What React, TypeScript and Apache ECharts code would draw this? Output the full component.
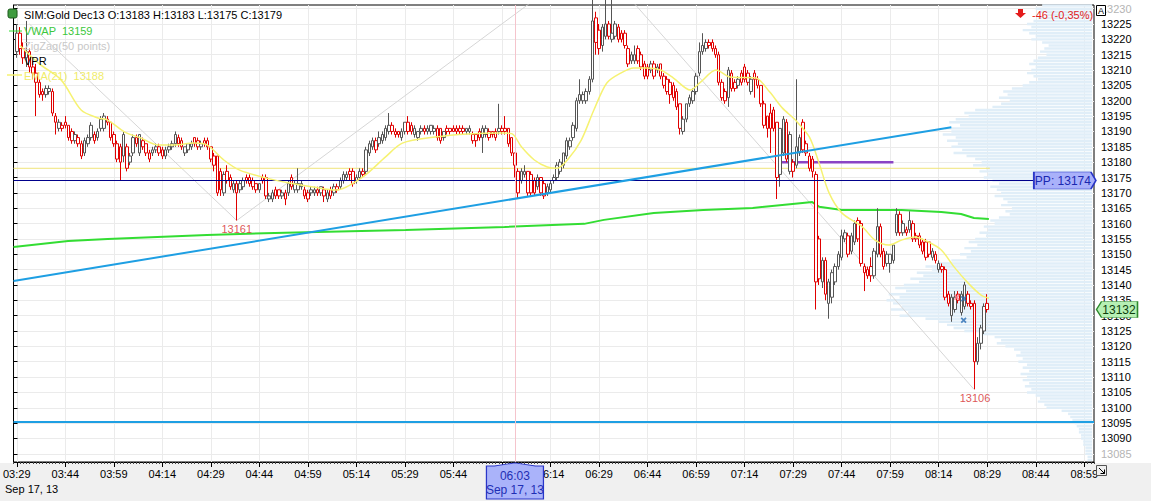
import React, { useEffect, useRef } from 'react';
import * as echarts from 'echarts';

type Bar = [number, number, number, number]; // open, close, low, high

// one-minute bars, 03:29 .. 03:59
const bars0329: Bar[] = [
  [13216, 13222, 13214, 13225], [13222, 13217, 13215, 13224], [13217, 13214, 13212, 13219], [13214, 13216, 13211, 13226],
  [13216, 13211, 13209, 13217], [13211, 13209, 13207, 13213], [13209, 13206, 13195, 13212], [13206, 13202, 13201, 13207],
  [13203, 13202, 13200, 13204], [13202, 13204, 13201, 13205], [13203, 13204, 13202, 13205], [13203, 13196, 13195, 13204],
  [13195, 13193, 13189, 13196], [13191, 13193, 13190, 13194], [13192, 13191, 13190, 13193], [13193, 13192, 13191, 13195],
  [13192, 13188, 13187, 13192], [13190, 13187, 13186, 13191], [13187, 13189, 13186, 13190], [13188, 13186, 13185, 13189],
  [13186, 13182, 13181, 13187], [13183, 13187, 13182, 13188], [13186, 13188, 13185, 13189], [13188, 13192, 13187, 13193],
  [13189, 13187, 13186, 13190], [13188, 13190, 13187, 13191], [13191, 13194, 13190, 13195], [13191, 13195, 13190, 13196],
  [13194, 13193, 13192, 13195], [13193, 13188, 13187, 13193], [13189, 13186, 13185, 13190],
];

// 04:00 .. 04:59
const bars04: Bar[] = [
  [13186, 13181, 13180, 13187], [13185, 13180, 13174, 13186], [13182, 13189, 13180, 13190], [13185, 13178, 13177, 13186],
  [13180, 13182, 13179, 13183], [13183, 13188, 13182, 13189], [13188, 13186, 13185, 13189], [13183, 13189, 13182, 13189],
  [13187, 13185, 13184, 13188], [13186, 13183, 13182, 13186], [13183, 13181, 13180, 13184], [13183, 13184, 13182, 13185],
  [13184, 13185, 13183, 13186], [13185, 13183, 13182, 13186], [13184, 13182, 13181, 13185], [13182, 13184, 13181, 13185],
  [13184, 13185, 13183, 13186], [13185, 13186, 13184, 13187], [13186, 13189, 13185, 13190], [13188, 13186, 13185, 13189],
  [13187, 13185, 13184, 13188], [13183, 13185, 13182, 13185], [13184, 13186, 13183, 13186], [13185, 13186, 13184, 13187],
  [13188, 13186, 13185, 13188], [13187, 13185, 13184, 13188], [13185, 13186, 13184, 13187], [13187, 13186, 13185, 13188],
  [13187, 13185, 13184, 13188], [13185, 13181, 13180, 13185], [13182, 13179, 13177, 13183], [13182, 13170, 13169, 13182],
  [13177, 13171, 13169, 13178], [13170, 13176, 13169, 13177], [13177, 13174, 13173, 13179], [13175, 13172, 13171, 13176],
  [13171, 13173, 13170, 13174], [13173, 13170, 13161, 13174], [13171, 13173, 13170, 13174], [13172, 13174, 13171, 13175],
  [13175, 13174, 13173, 13176], [13175, 13173, 13172, 13176], [13174, 13172, 13171, 13175], [13173, 13171, 13170, 13173],
  [13171, 13173, 13170, 13173], [13175, 13174, 13173, 13176], [13175, 13169, 13168, 13176], [13168, 13169, 13167, 13170],
  [13168, 13170, 13167, 13171], [13171, 13169, 13168, 13172], [13171, 13169, 13168, 13171], [13169, 13170, 13168, 13171],
  [13170, 13168, 13166, 13171], [13170, 13173, 13169, 13174], [13175, 13172, 13171, 13176], [13171, 13173, 13170, 13174],
  [13171, 13173, 13170, 13178], [13172, 13173, 13171, 13174], [13171, 13169, 13168, 13172], [13170, 13168, 13167, 13171],
];

// 05:00 .. 05:59
const bars05: Bar[] = [
  [13170, 13171, 13169, 13172], [13170, 13171, 13169, 13172], [13171, 13170, 13169, 13172], [13170, 13172, 13169, 13172],
  [13171, 13169, 13167, 13172], [13168, 13170, 13167, 13171], [13171, 13169, 13168, 13172], [13170, 13172, 13169, 13173],
  [13172, 13171, 13170, 13173], [13172, 13174, 13171, 13175], [13174, 13176, 13173, 13177], [13175, 13176, 13174, 13177],
  [13177, 13176, 13174, 13178], [13177, 13173, 13172, 13178], [13174, 13175, 13173, 13176], [13175, 13177, 13174, 13178],
  [13177, 13176, 13175, 13178], [13177, 13184, 13176, 13185], [13183, 13186, 13182, 13187], [13185, 13187, 13184, 13188],
  [13187, 13184, 13183, 13188], [13186, 13188, 13185, 13190], [13187, 13189, 13186, 13190], [13188, 13191, 13187, 13192],
  [13190, 13192, 13189, 13196], [13192, 13190, 13189, 13193], [13190, 13189, 13188, 13191], [13190, 13189, 13188, 13190],
  [13188, 13190, 13187, 13191], [13190, 13193, 13189, 13193], [13193, 13190, 13189, 13195], [13192, 13190, 13189, 13193],
  [13189, 13191, 13188, 13192], [13188, 13190, 13187, 13190], [13190, 13191, 13189, 13192], [13191, 13190, 13189, 13192],
  [13190, 13191, 13189, 13192], [13190, 13192, 13189, 13192], [13190, 13191, 13189, 13192], [13191, 13188, 13187, 13192],
  [13191, 13187, 13186, 13191], [13188, 13190, 13187, 13190], [13191, 13190, 13189, 13192], [13191, 13190, 13189, 13191],
  [13191, 13190, 13190, 13192], [13191, 13190, 13189, 13192], [13191, 13190, 13189, 13192], [13191, 13190, 13189, 13192],
  [13190, 13191, 13189, 13191], [13190, 13191, 13189, 13192], [13189, 13187, 13186, 13190], [13189, 13187, 13185, 13189],
  [13190, 13188, 13187, 13191], [13188, 13191, 13183, 13192], [13189, 13191, 13188, 13192], [13190, 13188, 13187, 13191],
  [13190, 13189, 13188, 13190], [13190, 13188, 13187, 13191], [13190, 13191, 13189, 13199], [13191, 13190, 13189, 13192],
];

// 06:00 .. 06:59
const bars06: Bar[] = [
  [13191, 13190, 13189, 13195], [13191, 13186, 13185, 13191], [13188, 13183, 13182, 13188], [13183, 13179, 13175, 13183],
  [13177, 13170, 13168, 13178], [13174, 13177, 13173, 13178], [13176, 13177, 13175, 13179], [13177, 13170, 13169, 13177],
  [13176, 13170, 13169, 13177], [13174, 13170, 13169, 13175], [13172, 13175, 13171, 13176], [13175, 13170, 13169, 13175],
  [13173, 13169, 13168, 13174], [13170, 13172, 13169, 13173], [13171, 13173, 13170, 13174], [13174, 13175, 13173, 13176],
  [13175, 13179, 13174, 13180], [13177, 13180, 13176, 13181], [13179, 13183, 13178, 13183], [13182, 13187, 13181, 13188],
  [13185, 13187, 13184, 13188], [13188, 13192, 13187, 13193], [13191, 13200, 13190, 13201], [13200, 13202, 13199, 13207],
  [13200, 13202, 13199, 13203], [13200, 13203, 13199, 13204], [13203, 13207, 13202, 13208], [13207, 13226, 13206, 13247],
  [13227, 13219, 13215, 13229], [13223, 13217, 13215, 13225], [13218, 13224, 13216, 13225], [13221, 13225, 13220, 13233],
  [13225, 13221, 13220, 13226], [13220, 13222, 13219, 13233], [13221, 13225, 13220, 13226], [13224, 13220, 13219, 13225],
  [13222, 13220, 13219, 13223], [13222, 13218, 13217, 13223], [13217, 13212, 13211, 13218], [13213, 13215, 13212, 13216],
  [13213, 13215, 13212, 13218], [13217, 13213, 13212, 13218], [13215, 13211, 13210, 13216], [13212, 13208, 13207, 13213],
  [13211, 13208, 13207, 13212], [13210, 13212, 13209, 13213], [13212, 13208, 13207, 13213], [13210, 13211, 13209, 13212],
  [13212, 13208, 13207, 13212], [13208, 13205, 13204, 13209], [13207, 13203, 13202, 13208], [13206, 13202, 13199, 13207],
  [13205, 13201, 13200, 13206], [13203, 13198, 13197, 13204], [13199, 13191, 13189, 13199], [13190, 13194, 13189, 13195],
  [13194, 13199, 13193, 13199], [13199, 13201, 13198, 13202], [13200, 13203, 13199, 13204], [13203, 13208, 13202, 13209],
];

// 07:00 .. 07:59
const bars07: Bar[] = [
  [13209, 13216, 13208, 13219], [13216, 13218, 13215, 13222], [13217, 13219, 13216, 13220], [13219, 13218, 13217, 13220],
  [13219, 13217, 13216, 13220], [13217, 13215, 13214, 13218], [13215, 13206, 13205, 13216], [13206, 13201, 13200, 13207],
  [13203, 13200, 13199, 13204], [13201, 13210, 13198, 13211], [13209, 13204, 13203, 13210], [13206, 13204, 13203, 13207],
  [13205, 13207, 13204, 13208], [13209, 13206, 13205, 13210], [13211, 13207, 13206, 13212], [13209, 13206, 13205, 13210],
  [13203, 13207, 13202, 13208], [13209, 13207, 13201, 13210], [13207, 13205, 13204, 13208], [13205, 13199, 13198, 13205],
  [13199, 13192, 13191, 13200], [13195, 13191, 13188, 13195], [13196, 13191, 13183, 13199], [13197, 13191, 13190, 13198],
  [13193, 13175, 13168, 13193], [13176, 13191, 13172, 13191], [13183, 13194, 13182, 13195], [13193, 13181, 13180, 13194],
  [13177, 13189, 13176, 13190], [13180, 13177, 13175, 13181], [13179, 13185, 13178, 13207], [13183, 13188, 13182, 13189],
  [13193, 13184, 13183, 13194], [13186, 13183, 13182, 13187], [13182, 13178, 13177, 13183], [13181, 13177, 13175, 13182],
  [13176, 13141, 13132, 13177], [13155, 13142, 13140, 13156], [13141, 13148, 13139, 13149], [13148, 13137, 13135, 13149],
  [13134, 13141, 13129, 13142], [13136, 13144, 13134, 13145], [13141, 13146, 13140, 13147], [13146, 13150, 13145, 13151],
  [13149, 13156, 13148, 13158], [13155, 13157, 13154, 13158], [13156, 13150, 13149, 13157], [13151, 13156, 13150, 13157],
  [13154, 13160, 13153, 13161], [13161, 13155, 13154, 13162], [13160, 13147, 13146, 13161], [13146, 13144, 13138, 13147],
  [13145, 13143, 13142, 13146], [13146, 13143, 13141, 13149], [13143, 13151, 13142, 13152], [13150, 13159, 13149, 13165],
  [13159, 13150, 13149, 13160], [13151, 13146, 13145, 13152], [13147, 13150, 13146, 13151], [13147, 13150, 13144, 13150],
];

// 08:00 .. 08:29
const bars08: Bar[] = [
  [13148, 13153, 13147, 13153], [13157, 13163, 13156, 13165], [13163, 13157, 13156, 13164], [13157, 13160, 13156, 13161],
  [13158, 13157, 13156, 13159], [13158, 13161, 13157, 13164], [13160, 13155, 13154, 13161], [13156, 13155, 13154, 13157],
  [13156, 13153, 13152, 13157], [13154, 13151, 13150, 13155], [13154, 13149, 13148, 13155], [13154, 13150, 13149, 13154],
  [13149, 13151, 13148, 13152], [13150, 13148, 13147, 13151], [13145, 13147, 13144, 13148], [13146, 13145, 13144, 13147],
  [13145, 13136, 13135, 13146], [13137, 13134, 13133, 13138], [13130, 13136, 13128, 13137], [13132, 13136, 13131, 13138],
  [13137, 13135, 13134, 13138], [13131, 13137, 13130, 13138], [13133, 13140, 13132, 13141], [13137, 13134, 13133, 13138],
  [13134, 13133, 13132, 13135], [13134, 13115, 13106, 13135], [13115, 13121, 13114, 13123], [13121, 13126, 13119, 13127],
  [13125, 13133, 13124, 13134], [13134, 13132, 13131, 13137],
];

// time axis runs 03:28 .. 09:02, first bar sits at 03:29
const minuteLabels: string[] = [];
for (let m = 3 * 60 + 28; m <= 9 * 60 + 2; m++) {
  minuteLabels.push(`${String(Math.floor(m / 60)).padStart(2, '0')}:${String(m % 60).padStart(2, '0')}`);
}
const priceTicks: number[] = [];
for (let p = 13085; p <= 13230; p += 5) priceTicks.push(p);
const hiddenTimeLabels = ['05:59']; // sits under the crosshair box

// indicator lines, [minute index, price]
const emaPoints = [
  [2, 13218], [8, 13212], [14.7, 13206.8], [20.9, 13197], [26.1, 13194.4], [29.1, 13193.7], [34.4, 13189.8],
  [39.3, 13187.9], [44.5, 13185.6], [49.7, 13185.6], [55.8, 13186.2], [59.8, 13185.6], [65, 13180.7],
  [69.9, 13177.4], [78.2, 13174.8], [85.3, 13173.2], [92.6, 13171.9], [99.7, 13170.9], [108, 13175.2],
  [115, 13181.7], [120.2, 13186.2], [130.4, 13188.2], [140.5, 13189.2], [150.9, 13189.5], [154, 13189.3],
  [157, 13185], [161, 13180.7], [165, 13178.4], [168, 13178], [171.2, 13180.7], [175.5, 13187.2],
  [179.4, 13197], [183.4, 13205.8], [187.7, 13209], [191.7, 13210.7], [195.7, 13210.7], [200, 13210],
  [204, 13207.4], [209.2, 13203.5], [212.3, 13206], [217.2, 13210], [221.5, 13207.7], [229.4, 13207.4],
  [233.7, 13202.9], [237.7, 13197.6], [241.7, 13193.7], [246, 13188.2], [249, 13179.7], [252.1, 13170],
  [256.1, 13163.4], [262.3, 13159], [266.3, 13154.6], [270.6, 13153], [274.5, 13154.6], [278.5, 13155.6],
  [282.8, 13154], [286.8, 13151.4], [290.8, 13145.8], [295.1, 13140.6], [299.1, 13136.7], [301.5, 13135.7],
];
const vwapPoints = [
  [0, 13152.4], [16.9, 13154.3], [29.1, 13155], [59.8, 13156.3], [90.5, 13157.2], [121.2, 13157.9],
  [151.8, 13158.9], [176.4, 13159.9], [182.5, 13161.2], [197.9, 13163.4], [213.2, 13164.4], [228.5, 13165.1],
  [243.9, 13166.7], [246.9, 13167], [249, 13165.5], [256.1, 13164.4], [274.5, 13164.4], [286.8, 13163.8],
  [292.9, 13163.1], [296.9, 13161.8], [301.5, 13161.5],
];
const zigzagPoints = [[4.9, 13225], [69, 13161], [179.1, 13247], [296.9, 13106]];
const trendPoints = [[0, 13141.3], [289.9, 13191.4]];
const vprLinePoints = [[0, 13178], [301.8, 13178]];
const purplePoints = [[236.8, 13180], [272, 13180]];
const lowLabels = [[69, 13161], [297.2, 13106]];
const blueMarks = [[293.7, 13135.5], [293.7, 13128.5]];
const pinkMarks = [[291.6, 13136]];

const ppLevel = 13174;
const supportLevel = 13095.5;
const lastPrice = 13132;
const crosshairTime = '06:03';

// volume profile, one value per price from vprTop downwards
const vprTop = 13231;
const vprVolume = [
  24, 27, 25, 22, 26, 28, 31, 29, 33, 30,
  27, 29, 24, 21, 23, 25, 22, 26, 28, 30,
  27, 29, 31, 28, 26, 30, 33, 38, 42, 40,
  44, 39, 43, 47, 55, 60, 58, 64, 67, 62,
  69, 66, 70, 64, 68, 63, 66, 61, 65, 59,
  55, 52, 56, 50, 53, 49, 51, 47, 44, 48,
  45, 43, 46, 42, 40, 43, 38, 41, 39, 44,
  48, 46, 51, 49, 53, 50, 55, 58, 54, 60,
  57, 62, 59, 66, 72, 78, 75, 82, 79, 85,
  81, 88, 92, 87, 95, 90, 96, 93, 89, 94,
  86, 90, 78, 72, 68, 65, 60, 52, 46, 43,
  45, 41, 37, 34, 36, 33, 35, 31, 33, 30,
  34, 31, 33, 30, 32, 29, 31, 27, 25, 26,
  23, 22, 15, 12, 11, 10, 9, 8, 7, 7,
  6, 6, 5, 5, 4, 4, 4, 3, 3,
];

const xMark = 'path://M0,2L2,0L5,3L8,0L10,2L7,5L10,8L8,10L5,7L2,10L0,8L3,5Z';
const isMajor = (v: string) => Number(v.slice(3)) % 15 === 14;

const App: React.FC = () => {
  const chartRef = useRef<HTMLDivElement>(null);

  useEffect(() => {
    const chart = echarts.init(chartRef.current, null, { renderer: 'svg' });

    const bars = [...bars0329, ...bars04, ...bars05, ...bars06, ...bars07, ...bars08];
    const candleData = bars.map((b, i) => [i + 1, b[0], b[1], b[2], b[3]]);
    const vprData = vprVolume.map((v, k) => [v, vprTop - k]);
    const font = '11px "Liberation Sans"';

    const option = {
      animation: false,
      textStyle: { fontFamily: 'Liberation Sans' },
      grid: { left: 5, top: 5, right: 57, bottom: 39, show: true, borderColor: '#000', borderWidth: 1 },
      xAxis: [
        {
          type: 'category',
          data: minuteLabels,
          boundaryGap: false,
          axisLine: { lineStyle: { color: '#000' } },
          axisTick: { interval: 0, length: 2, lineStyle: { color: '#444' } },
          axisLabel: {
            interval: (_i: number, v: string) => isMajor(v) && !hiddenTimeLabels.includes(v),
            color: '#000',
            fontSize: 11,
            margin: 6,
          },
          splitLine: { show: true, interval: (_i: number, v: string) => isMajor(v), lineStyle: { color: '#ebebeb' } },
        },
        { type: 'value', min: 0, max: minuteLabels.length - 1, show: false },
        {
          type: 'category',
          data: minuteLabels,
          boundaryGap: false,
          position: 'bottom',
          offset: 0,
          axisLine: { show: false },
          axisTick: { interval: (_i: number, v: string) => isMajor(v), length: 5, lineStyle: { color: '#000' } },
          axisLabel: { show: false },
          splitLine: { show: false },
        },
        { type: 'value', inverse: true, min: 0, max: 500, show: false },
      ],
      yAxis: {
        type: 'value',
        position: 'right',
        min: 13082.33,
        max: 13231.19,
        axisLine: { show: true, lineStyle: { color: '#000' } },
        axisTick: { show: true, length: 4, customValues: priceTicks, lineStyle: { color: '#000' } },
        axisLabel: {
          customValues: priceTicks,
          margin: 7,
          fontSize: 11,
          formatter: (v: number) => String(v),
          color: (v: any) => (Number(v) === 13230 || Number(v) === 13085 ? '#b4b4b4' : '#000'),
        },
        splitLine: { show: true, lineStyle: { color: '#ebebeb' } },
      },
      series: [
        {
          type: 'custom',
          name: 'VPR',
          xAxisIndex: 3,
          yAxisIndex: 0,
          z: 1,
          silent: true,
          encode: { x: 0, y: 1 },
          data: vprData,
          renderItem: (_p: any, api: any) => {
            const left = api.coord([api.value(0), api.value(1)]);
            const right = api.coord([0, api.value(1)]);
            const h = api.size([0, 1])[1];
            return {
              type: 'rect',
              shape: { x: left[0], y: left[1] - h * 0.4, width: right[0] - left[0] - 2, height: h * 0.8 },
              style: { fill: '#e0eef8' },
            };
          },
        },
        {
          type: 'line',
          name: 'ZigZag',
          xAxisIndex: 1,
          data: zigzagPoints,
          symbol: 'none',
          z: 2,
          lineStyle: { color: '#d6d6d6', width: 1 },
        },
        {
          type: 'line',
          name: 'VPR POC',
          xAxisIndex: 1,
          data: vprLinePoints,
          symbol: 'none',
          z: 2,
          lineStyle: { color: '#f0e47a', width: 1 },
        },
        {
          type: 'line',
          name: 'Levels',
          xAxisIndex: 1,
          data: purplePoints,
          symbol: 'none',
          z: 2,
          lineStyle: { color: '#8b45c4', width: 2.5 },
          markLine: {
            symbol: 'none',
            silent: true,
            label: { show: false },
            data: [
              { yAxis: ppLevel, lineStyle: { color: '#00008b', width: 1, type: 'solid' } },
              { yAxis: supportLevel, lineStyle: { color: '#1e9fe3', width: 2, type: 'solid' } },
            ],
          },
        },
        {
          type: 'line',
          name: 'VWAP',
          xAxisIndex: 1,
          data: vwapPoints,
          symbol: 'none',
          z: 3,
          lineStyle: { color: '#33dd33', width: 2 },
        },
        {
          type: 'candlestick',
          name: 'Gold',
          xAxisIndex: 0,
          yAxisIndex: 0,
          data: candleData,
          encode: { x: 0, y: [1, 2, 3, 4] },
          barWidth: 3,
          z: 4,
          itemStyle: { color: '#fff', color0: '#fff', borderColor: '#555', borderColor0: '#e00000', borderWidth: 1 },
          markLine: {
            symbol: 'none',
            silent: true,
            label: { show: false },
            data: [{ xAxis: crosshairTime, lineStyle: { color: '#f5c4cc', width: 1, type: 'solid' } }],
          },
        },
        {
          type: 'line',
          name: 'EMA(21)',
          xAxisIndex: 1,
          data: emaPoints,
          symbol: 'none',
          smooth: 0.3,
          z: 5,
          lineStyle: { color: '#f6f272', width: 1.5 },
        },
        {
          type: 'line',
          name: 'Trend',
          xAxisIndex: 1,
          data: trendPoints,
          symbol: 'none',
          z: 6,
          lineStyle: { color: '#1e9fe3', width: 2 },
          markPoint: {
            silent: true,
            data: [
              {
                coord: [325, ppLevel],
                symbol: 'path://M0,0L57,0L62,8.5L57,17L0,17Z',
                symbolSize: [62, 17],
                itemStyle: { color: '#a9b1fa', borderColor: '#2a36c8', borderWidth: 1 },
                label: { show: true, formatter: `PP: ${ppLevel}`, color: '#1a28b0', fontSize: 12, offset: [-2, 0] },
              },
              {
                coord: [334, lastPrice],
                symbol: 'path://M5,0L41,0L41,16L5,16L0,8Z',
                symbolSize: [41, 16],
                symbolOffset: [23, 0],
                itemStyle: { color: '#b6f0b4', borderColor: '#2c8a2c', borderWidth: 1 },
                label: { show: true, formatter: String(lastPrice), color: '#0d3d0d', fontSize: 12, offset: [2, 0] },
              },
              {
                coord: [155, 13082.5],
                symbol: 'path://M0,3L8,3L28.5,0L49,3L57,3L57,36L0,36Z',
                symbolSize: [57, 36],
                symbolOffset: [0, 19.5],
                itemStyle: { color: '#aab3fa', borderColor: '#2a36c8', borderWidth: 1 },
                label: {
                  show: true,
                  formatter: `${crosshairTime}\nSep 17, 13`,
                  color: '#1f2fb5',
                  fontSize: 12,
                  lineHeight: 14,
                  offset: [0, 2],
                },
              },
            ],
          },
        },
        {
          type: 'scatter',
          name: 'Lows',
          xAxisIndex: 1,
          data: lowLabels,
          symbolSize: 1,
          itemStyle: { color: 'rgba(0,0,0,0)' },
          z: 7,
          label: {
            show: true,
            position: 'bottom',
            distance: 3,
            formatter: (p: any) => String(p.value[1]),
            color: '#d42a2a',
            fontSize: 11,
          },
        },
        {
          type: 'scatter',
          name: 'Fills',
          xAxisIndex: 1,
          data: blueMarks,
          symbol: xMark,
          symbolSize: 6,
          z: 7,
          itemStyle: { color: '#2a6db3' },
        },
        {
          type: 'scatter',
          name: 'Orders',
          xAxisIndex: 1,
          data: pinkMarks,
          symbol: xMark,
          symbolSize: 6,
          z: 7,
          itemStyle: { color: '#f07a8a' },
        },
      ],
      graphic: [
        { type: 'rect', z: 100, shape: { x: 8, y: 9, width: 9, height: 9, r: 2 }, style: { fill: '#3f9b3f', stroke: '#1d5a1d', lineWidth: 1 } },
        { type: 'text', z: 100, x: 24, y: 15, style: { text: 'SIM:Gold Dec13 O:13183 H:13183 L:13175 C:13179', fill: '#000', font, verticalAlign: 'middle' } },
        { type: 'line', z: 100, shape: { x1: 9, y1: 31, x2: 22, y2: 31 }, style: { stroke: '#33dd33', lineWidth: 1 } },
        { type: 'text', z: 100, x: 24, y: 31, style: { text: 'VWAP  13159', fill: '#3cc83c', font, verticalAlign: 'middle' } },
        { type: 'text', z: 100, x: 24, y: 46, style: { text: 'ZigZag(50 points)', fill: '#c8c8c8', font, verticalAlign: 'middle' } },
        { type: 'text', z: 100, x: 24, y: 61, style: { text: 'VPR', fill: '#000', font, verticalAlign: 'middle' } },
        { type: 'line', z: 100, shape: { x1: 7, y1: 75, x2: 22, y2: 75 }, style: { stroke: '#f6f272', lineWidth: 1.5 } },
        { type: 'text', z: 100, x: 24, y: 76, style: { text: 'EMA(21)  13188', fill: '#f0ec6a', font, verticalAlign: 'middle' } },
        {
          type: 'polygon',
          z: 100,
          shape: { points: [[1018, 9], [1023, 9], [1023, 13], [1026, 13], [1020.5, 18], [1015, 13], [1018, 13]] },
          style: { fill: '#e41c1c' },
        },
        { type: 'text', z: 100, x: 1032, y: 15, style: { text: '-46 (-0,35%)', fill: '#e41c1c', font, verticalAlign: 'middle' } },
        { type: 'rect', z: 100, shape: { x: 1096.5, y: 5.5, width: 9, height: 10 }, style: { fill: '#fff', stroke: '#000', lineWidth: 1 } },
        { type: 'text', z: 101, x: 1101, y: 11, style: { text: 'A', fill: '#000', font: '9px "Liberation Sans"', align: 'center', verticalAlign: 'middle' } },
        { type: 'rect', z: 100, shape: { x: 1096.5, y: 465.5, width: 10, height: 10 }, style: { fill: '#f0f0f0', stroke: '#555', lineWidth: 1 } },
        { type: 'line', z: 101, shape: { x1: 1099, y1: 468, x2: 1104.5, y2: 473.5 }, style: { stroke: '#000', lineWidth: 1 } },
        { type: 'polyline', z: 101, shape: { points: [[1100.5, 473.5], [1104.5, 473.5], [1104.5, 469.5]] }, style: { stroke: '#000', lineWidth: 1, fill: null } },
        { type: 'text', z: 100, x: 5, y: 489, style: { text: 'Sep 17, 13', fill: '#000', font, verticalAlign: 'middle' } },
      ],
    };

    chart.setOption(option as any);

    return () => {
      chart.dispose();
    };
  }, []);

  return (
    <div
      ref={chartRef}
      style={{
        position: 'fixed',
        left: 0,
        top: 0,
        width: '1151px',
        height: '501px',
        background: 'linear-gradient(#ffffff 0px, #ffffff 463px, #f0f0f0 463px, #f0f0f0 501px)',
      }}
    />
  );
};

export default App;
